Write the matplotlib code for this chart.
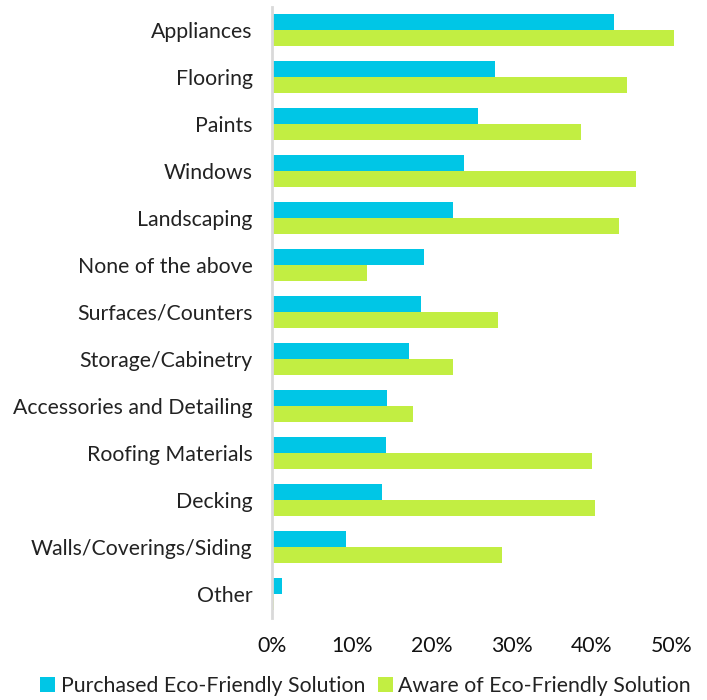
import matplotlib
matplotlib.use("Agg")
import matplotlib.pyplot as plt
import numpy as np

categories = ["Appliances", "Flooring", "Paints", "Windows", "Landscaping",
              "None of the above", "Surfaces/Counters", "Storage/Cabinetry",
              "Accessories and Detailing", "Roofing Materials", "Decking",
              "Walls/Coverings/Siding", "Other"]
purchased = [42.8, 27.9, 25.8, 24.0, 22.6, 19.0, 18.6, 17.1, 14.4, 14.3, 13.8, 9.3, 1.3]
aware = [50.3, 44.4, 38.6, 45.5, 43.4, 11.9, 28.3, 22.6, 17.6, 40.0, 40.4, 28.7, 0.2]
xticks = [0, 10, 20, 30, 40, 50]
xticklabels = ["0%", "10%", "20%", "30%", "40%", "50%"]
series_names = ["Purchased Eco-Friendly Solution", "Aware of Eco-Friendly Solution"]

plt.rcParams['font.family'] = ['Lato', 'DejaVu Sans']

fig = plt.figure(figsize=(7.07, 7.0), dpi=100)
ax = fig.add_axes([272/707, (700-617.5)/700, (704-272)/707, 611/700])

y = np.arange(len(categories))
h = 0.34
ax.barh(y - h/2, purchased, height=h, color="#00C6E6", label=series_names[0])
ax.barh(y + h/2, aware, height=h, color="#C2EE42", label=series_names[1])

ax.set_ylim(len(categories) - 0.5, -0.5)
ax.set_xlim(0, 54)
ax.set_yticks(y)
ax.set_yticklabels(categories, fontsize=15.3, color="#222222")
ax.set_xticks(xticks)
ax.set_xticklabels(xticklabels, fontsize=15.3, color="#111111")
ax.tick_params(axis="y", length=0, pad=14)
ax.tick_params(axis="x", length=0, pad=13)
for s in ["top", "right", "bottom"]:
    ax.spines[s].set_visible(False)
ax.spines["left"].set_color("#D9D9D9")
ax.spines["left"].set_linewidth(2)

fig.legend(loc="lower center", bbox_to_anchor=(0.517, -0.021), ncol=2, frameon=False,
           fontsize=15.3, handlelength=0.7, handleheight=0.7, handletextpad=0.25,
           columnspacing=0.6, labelcolor="#222222")

fig.savefig("out.png", dpi=100)
